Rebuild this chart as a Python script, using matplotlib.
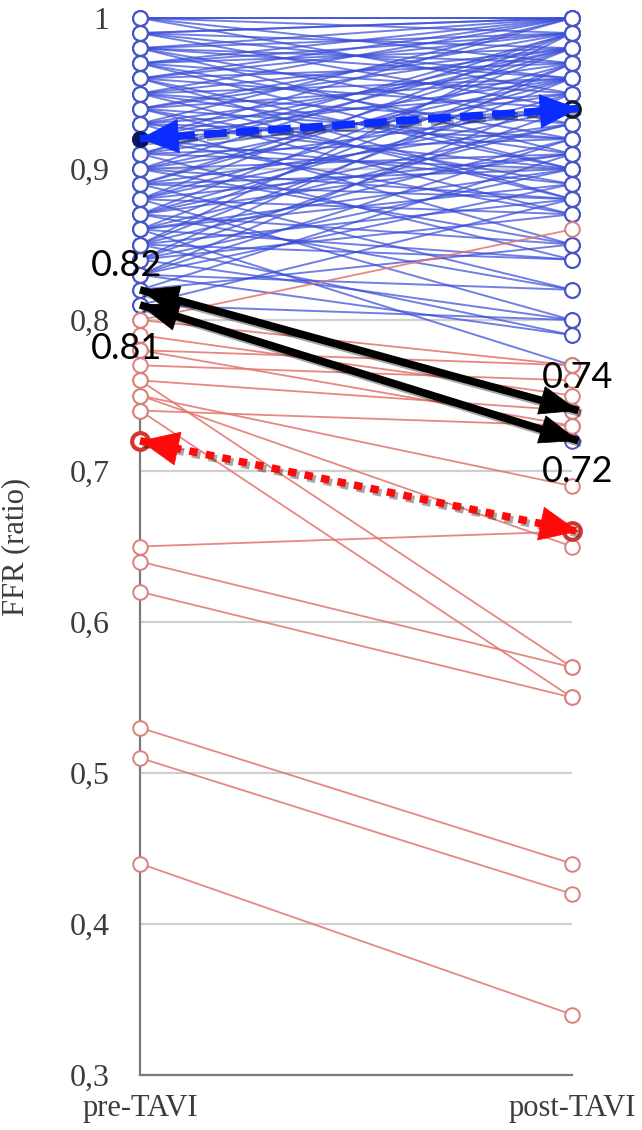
import numpy as np
import matplotlib
matplotlib.use("Agg")
import matplotlib.pyplot as plt
import matplotlib.patheffects as pe

# FFR pairs (pre-TAVI, post-TAVI)
blue_pre = [1.00, 1.00, 1.00, 1.00, 1.00,
            0.99, 0.99, 0.99, 0.99, 0.99,
            0.98, 0.98, 0.98, 0.98, 0.98, 0.98,
            0.97, 0.97, 0.97, 0.97, 0.97, 0.97,
            0.96, 0.96, 0.96, 0.96, 0.96, 0.96,
            0.95, 0.95, 0.95, 0.95, 0.95, 0.95,
            0.94, 0.94, 0.94, 0.94, 0.94, 0.94,
            0.93, 0.93, 0.93, 0.93, 0.93, 0.93,
            0.92, 0.92, 0.92, 0.92, 0.92, 0.92,
            0.91, 0.91, 0.91, 0.91, 0.91, 0.91,
            0.90, 0.90, 0.90, 0.90, 0.90, 0.90,
            0.89, 0.89, 0.89, 0.89, 0.89, 0.89,
            0.88, 0.88, 0.88, 0.88, 0.88, 0.88,
            0.87, 0.87, 0.87, 0.87, 0.87, 0.87,
            0.86, 0.86, 0.86, 0.86, 0.86, 0.86,
            0.85, 0.85, 0.85, 0.85, 0.85, 0.85,
            0.84, 0.84, 0.84, 0.84, 0.84,
            0.83, 0.83, 0.83, 0.83, 0.83,
            0.82, 0.82, 0.82,
            0.81, 0.81, 0.81]
blue_post = [1.00, 1.00, 0.99, 0.97, 0.95,
             1.00, 0.98, 0.96, 1.00, 0.94,
             1.00, 0.99, 0.97, 0.93, 0.96, 0.91,
             1.00, 0.98, 0.95, 0.90, 0.99, 0.92,
             0.99, 0.97, 0.94, 0.88, 1.00, 0.90,
             1.00, 0.96, 0.93, 0.91, 0.98, 0.88,
             0.99, 0.98, 0.92, 0.87, 0.96, 0.89,
             0.97, 0.95, 0.90, 0.85, 1.00, 0.92,
             1.00, 0.96, 0.94, 0.89, 0.98, 0.87,
             0.98, 0.95, 0.92, 0.84, 0.99, 0.90,
             0.99, 0.94, 0.91, 0.88, 0.96, 0.85,
             0.97, 0.93, 0.90, 0.82, 0.98, 0.88,
             0.96, 0.94, 0.87, 0.80, 0.99, 0.91,
             0.98, 0.95, 0.91, 0.85, 0.93, 0.82,
             0.93, 0.89, 0.84, 0.77, 0.97, 0.90,
             0.96, 0.92, 0.88, 0.79, 0.99, 0.84,
             0.94, 0.90, 0.87, 0.97, 0.80,
             0.95, 0.89, 0.82, 0.92, 0.79,
             0.91, 0.85, 0.74,
             0.88, 0.80, 0.72]

red_pre = [0.80, 0.80, 0.79, 0.78, 0.78, 0.77, 0.76, 0.76, 0.75, 0.75,
           0.74, 0.74, 0.65, 0.64, 0.62, 0.53, 0.51, 0.44]
red_post = [0.86, 0.77, 0.75, 0.77, 0.73, 0.76, 0.57, 0.74, 0.69, 0.65,
            0.55, 0.73, 0.66, 0.57, 0.55, 0.44, 0.42, 0.34]

blue_mean = [0.92, 0.94]
red_mean = [0.72, 0.66]
arrow_a = [0.82, 0.74]
arrow_b = [0.81, 0.72]

groups = ["pre-TAVI", "post-TAVI"]
yticks = [0.3, 0.4, 0.5, 0.6, 0.7, 0.8, 0.9, 1.0]
ytick_labels = ["0,3", "0,4", "0,5", "0,6", "0,7", "0,8", "0,9", "1"]

blue_line = "#3a4ed8"
blue_edge = "#4656c4"
red_line = "#e2736c"
red_edge = "#d8817c"

fig = plt.figure(figsize=(6.42, 11.3), dpi=100)
ax = fig.add_axes([140 / 642, 55 / 1130, 432 / 642, 1057 / 1130])

for a, b in zip(blue_pre, blue_post):
    ax.plot([0, 1], [a, b], color=blue_line, lw=1.4, alpha=0.72, clip_on=False, zorder=2)
for a, b in zip(red_pre, red_post):
    ax.plot([0, 1], [a, b], color=red_line, lw=1.3, alpha=0.85, clip_on=False, zorder=2)

mk = dict(marker="o", ls="none", ms=10.5, mew=1.4, mfc="white", clip_on=False, zorder=3)
ax.plot(np.zeros(len(blue_pre)), blue_pre, mec=blue_edge, **mk)
ax.plot(np.ones(len(blue_post)), blue_post, mec=blue_edge, **mk)
ax.plot(np.zeros(len(red_pre)), red_pre, mec=red_edge, **mk)
ax.plot(np.ones(len(red_post)), red_post, mec=red_edge, **mk)

# group means
ax.plot([0], [blue_mean[0]], marker="o", ms=11, mfc="#0c1560", mec="#0c1560", clip_on=False, zorder=4)
ax.plot([1], [blue_mean[1]], marker="o", ms=11, mfc="white", mec="#141830", mew=2.5, clip_on=False, zorder=4)
ax.plot([0], [red_mean[0]], marker="o", ms=12, mfc="white", mec="#d2362a", mew=3, clip_on=False, zorder=4)
ax.plot([1], [red_mean[1]], marker="o", ms=12, mfc="white", mec="#c83a30", mew=3, clip_on=False, zorder=4)


def arrow(y0, y1, color, ls, lw, hw, x0=0.0, x1=1.015):
    # shaft
    ax.plot([x0, x1], [y0, y1], color=color, lw=lw, ls=ls, solid_capstyle="butt",
            dash_capstyle="butt", clip_on=False, zorder=6,
            path_effects=[pe.SimpleLineShadow(offset=(2, -2), alpha=0.35), pe.Normal()])
    # solid heads at both ends
    for (xa, ya), (xb, yb) in [((x0, y0), (x1, y1)), ((x1, y1), (x0, y0))]:
        xt = xa + (xb - xa) * 0.1
        yt = ya + (yb - ya) * 0.1
        ax.annotate("", xy=(xa, ya), xytext=(xt, yt), annotation_clip=False, zorder=7,
                    arrowprops=dict(arrowstyle=f"-|>,head_length=0.45,head_width={hw}",
                                    mutation_scale=60, color=color, lw=0.5,
                                    shrinkA=0, shrinkB=0))


arrow(blue_mean[0], blue_mean[1], "#0a2cff", (0, (3.0, 1.2)), 5.5, 0.2)
arrow(red_mean[0], red_mean[1], "#ff0a0a", (0, (1.1, 1.1)), 5.5, 0.2)
arrow(arrow_a[0], arrow_a[1], "black", "-", 5.5, 0.17)
arrow(arrow_b[0], arrow_b[1], "black", "-", 5.5, 0.17)

lab = dict(fontsize=26, family="Lato", color="black", ha="center", va="center", zorder=8)
ax.text(-0.03, 0.836, "0.82", **lab)
ax.text(-0.03, 0.781, "0.81", **lab)
ax.text(1.014, 0.762, "0.74", **lab)
ax.text(1.014, 0.700, "0.72", **lab)

ax.set_xlim(0, 1)
ax.set_ylim(0.3, 1.0)
ax.set_yticks(yticks)
ax.set_yticklabels(ytick_labels)
ax.set_xticks([0, 1])
ax.set_xticklabels(groups)
ax.tick_params(axis="y", length=0, pad=22, labelsize=23, labelcolor="#3c3c3c")
ax.tick_params(axis="x", length=0, pad=14, labelsize=22, labelcolor="#3c3c3c")
for t in ax.get_yticklabels() + ax.get_xticklabels():
    t.set_family("Liberation Serif")

ax.set_ylabel("FFR (ratio)", family="Liberation Serif", fontsize=22, color="#3c3c3c")
ax.yaxis.set_label_coords(-0.255, 0.5)

ax.grid(axis="y", color="#cfcfcf", lw=1.6)
ax.set_axisbelow(True)
for s in ["top", "right"]:
    ax.spines[s].set_visible(False)
for s in ["left", "bottom"]:
    ax.spines[s].set_color("#7a7a7a")
    ax.spines[s].set_linewidth(1.6)

fig.savefig("out.png", dpi=100)
